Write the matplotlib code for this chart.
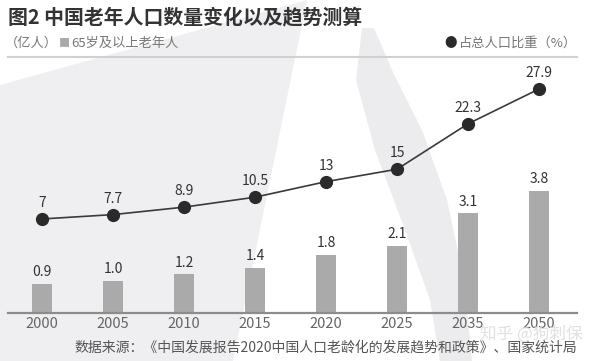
import matplotlib
matplotlib.use("Agg")
import matplotlib.pyplot as plt
from matplotlib.patches import Polygon

plt.rcParams['font.family'] = ['Noto Sans CJK SC', 'DejaVu Sans']

years = ['2000', '2005', '2010', '2015', '2020', '2025', '2035', '2050']
elderly = [0.9, 1.0, 1.2, 1.4, 1.8, 2.1, 3.1, 3.8]          # 亿人
share = [7, 7.7, 8.9, 10.5, 13, 15, 22.3, 27.9]             # %
bar_labels = ['0.9', '1.0', '1.2', '1.4', '1.8', '2.1', '3.1', '3.8']
share_labels = ['7', '7.7', '8.9', '10.5', '13', '15', '22.3', '27.9']

W, H = 600, 361
fig = plt.figure(figsize=(6, 3.61), dpi=100, facecolor='white')


def px(x, y):
    # pixel (from top-left) -> figure fraction
    return (x / W, 1 - y / H)


# decorative background shapes, kept behind the axes
left_bg = [px(0, 85), px(307, 0), px(233, 361), px(0, 361)]
fig.patches.append(Polygon(left_bg, closed=True, transform=fig.transFigure,
                           facecolor='#efeff1', edgecolor='none', zorder=-10))
stripe = [px(362, 28), px(356, 80), px(375, 150), px(405, 230), px(430, 300),
          px(440, 361), px(472, 361), px(464, 280), px(447, 200),
          px(422, 130), px(392, 70), px(374, 28)]
fig.patches.append(Polygon(stripe, closed=True, transform=fig.transFigure,
                           facecolor='#ececee', edgecolor='none', zorder=-10))

# header
fig.text(*px(8, 17), '图2 中国老年人口数量变化以及趋势测算', fontsize=14.3,
         fontweight='bold', color='#333333', va='center', ha='left')
renderer = fig.canvas.get_renderer()
t1 = fig.text(*px(5, 43), '（亿人）', fontsize=9.5, color='#777777',
              va='center', ha='left')
x_end = t1.get_window_extent(renderer).x1 + 0.5
t2 = fig.text(x_end / W, 1 - 43 / H, '■', fontsize=8, color='#aaaaaa',
              va='center', ha='left')
x_end = t2.get_window_extent(renderer).x1 + 1.5
fig.text(x_end / W, 1 - 43 / H, '65岁及以上老年人', fontsize=9.5,
         color='#777777', va='center', ha='left')
t3 = fig.text(*px(577, 43), '占总人口比重（%）', fontsize=9.5, color='#777777',
              va='center', ha='right')
x_start = t3.get_window_extent(renderer).x0 - 2
fig.text(x_start / W, 1 - 43 / H, '●', fontsize=9, color='#2a2a2a',
         va='center', ha='right')
fig.add_artist(plt.Line2D([8 / W, 577 / W], [1 - 57 / H, 1 - 57 / H],
                          transform=fig.transFigure, color='#d0d0d0', lw=1.5))

# axes
ax = fig.add_axes([8 / W, 48 / H, 569 / W, 253 / H])
ax.set_facecolor('none')
x = list(range(len(years)))
ax.bar(x, elderly, width=0.28, color='#aaaaaa', zorder=2)
ax.set_xlim(-0.479, 7.535)
ax.set_ylim(0, 253 / 32.1)
for s in ['top', 'right', 'left']:
    ax.spines[s].set_visible(False)
ax.spines['bottom'].set_color('#8c8c8c')
ax.spines['bottom'].set_linewidth(1.6)
ax.set_yticks([])
ax.set_xticks(x)
ax.set_xticklabels(years, fontsize=10.5, color='#666666')
ax.tick_params(axis='x', length=0, pad=3)
for xi, v, lab in zip(x, elderly, bar_labels):
    ax.annotate(lab, (xi, v), xytext=(0, 8.5), textcoords='offset points',
                ha='center', va='center', fontsize=10, color='#333333')

ax2 = ax.twinx()
ax2.set_ylim(-8.12, 32.56)
ax2.axis('off')
ax2.plot(x, share, color='#3a3a3a', lw=1.2, marker='o', ms=8.5,
         markerfacecolor='#2a2a2a', markeredgecolor='#2a2a2a', zorder=3)
for xi, v, lab in zip(x, share, share_labels):
    ax2.annotate(lab, (xi, v), xytext=(0, 11.5), textcoords='offset points',
                 ha='center', va='center', fontsize=10, color='#333333')

# footer
fig.text(*px(577, 348), '数据来源：《中国发展报告2020中国人口老龄化的发展趋势和政策》、国家统计局',
         fontsize=10, color='#555555', va='center', ha='right')
fig.text(*px(480, 334), '知乎 @狗刺保', fontsize=12, color='#dddddd',
         va='center', ha='left', alpha=0.9)

fig.savefig('out.png', dpi=100)
